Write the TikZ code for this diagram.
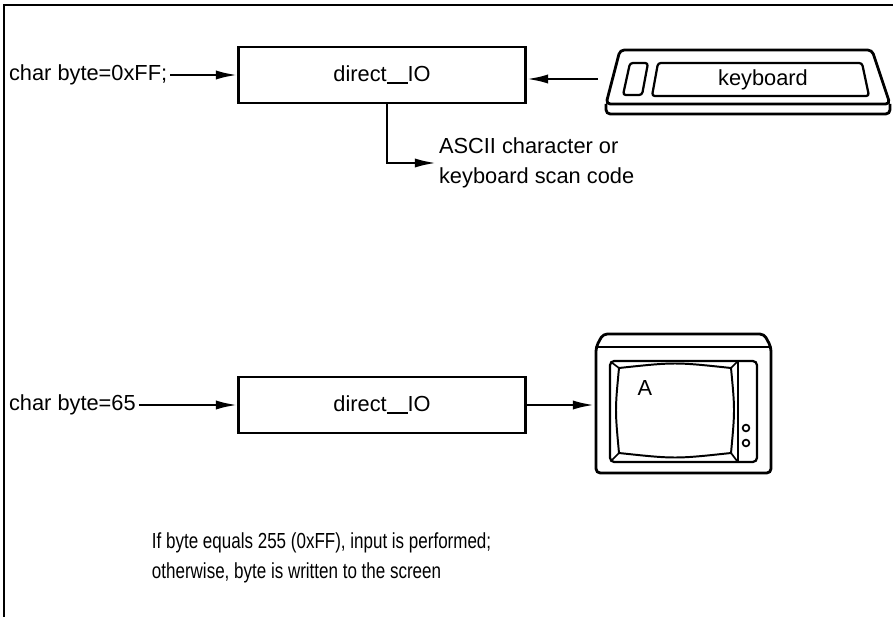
\documentclass[tikz,border=0pt]{standalone}
\usepackage{fontspec}
\setmainfont{Liberation Sans}
\newfontfamily\narrowfont[FakeStretch=0.78]{Liberation Sans}
\usetikzlibrary{positioning,arrows.meta}

% long low line used in the routine name
\newcommand{\lowline}{\rule[-0.1em]{0.95em}{0.07em}}

\begin{document}
\begin{tikzpicture}[x=0.025cm, y=-0.025cm,
  lbl/.style={font=\fontsize{15.5}{21}\selectfont, inner sep=2pt},
  block/.style={rectangle, draw, line width=2pt, minimum width=7.175cm, minimum height=1.4cm, font=\fontsize{15.5}{21}\selectfont},
  arr/.style={line width=1.6pt, -{Latex[length=15pt,width=6.5pt]}},
  outline/.style={line width=2pt, rounded corners=3pt},
  ]
\useasboundingbox (0,0) rectangle (893,617);

% frame
\draw[line width=1pt] (4,617) -- (4,5) -- (893,5);

%% input case
\node[block] (io1) at (382,75) {direct\lowline IO};
\node[lbl, anchor=west] (in1) at (6,75) {char byte=0xFF;};
\node[lbl, anchor=west, align=left] (ascii) at (436,163) {ASCII character or\\keyboard scan code};

% keyboard
\draw[outline] (606,104) -- (620,50) -- (872,50) -- (890,104) -- cycle;
\draw[outline] (606,104) -- (606,114) -- (890,114) -- (890,104);
\draw[line width=1.6pt, rounded corners=2pt] (623,95) -- (630,63) -- (648,63) -- (642,95) -- cycle;
\draw[line width=1.6pt, rounded corners=2pt] (652,96) -- (658,63) -- (862,63) -- (869,96) -- cycle;
\node[lbl] (kbd) at (763,80) {keyboard};
\coordinate (kbdin) at (598,79);

\draw[arr] (in1) -- (io1);
\draw[arr] (kbdin) -- (kbdin -| io1.east);
\draw[arr] ([xshift=0.125cm]io1.south) |- (ascii.west);

%% output case
\node[block] (io2) at (382,405) {direct\lowline IO};
\node[lbl, anchor=west] (in2) at (6,405) {char byte=65};

% monitor
\draw[outline] (596,473) -- (596,347) -- (603,334) -- (764,334) -- (771,347) -- (771,473) -- cycle;
\draw[line width=1.6pt] (596,347) -- (771,347);
\draw[line width=1.6pt, rounded corners=3pt] (610,361) rectangle (757,462);
\draw[line width=1.4pt] (738,361) -- (738,462);
\draw[line width=1.4pt] (619,368) .. controls (675,362) .. (731,368)
  .. controls (735,410) .. (731,453) .. controls (675,459) .. (619,453)
  .. controls (615,410) .. (619,368);
\draw[line width=1.2pt] (611,362) -- (619,368) (737,362) -- (731,368)
  (611,461) -- (619,453) (737,461) -- (731,453);
\draw[line width=1.2pt] (746,428) circle[radius=2.4pt] (746,443) circle[radius=2.4pt];
\node[lbl] (scr) at (645,388) {A};
\coordinate (scrin) at (594,405);

\draw[arr] (in2) -- (io2);
\draw[arr] (io2) -- (scrin);

% note
\node[anchor=west, align=left, font=\narrowfont\fontsize{15.5}{21}\selectfont] (note) at (147,558) {If byte equals 255 (0xFF), input is performed;\\otherwise, byte is written to the screen};

\end{tikzpicture}
\end{document}
